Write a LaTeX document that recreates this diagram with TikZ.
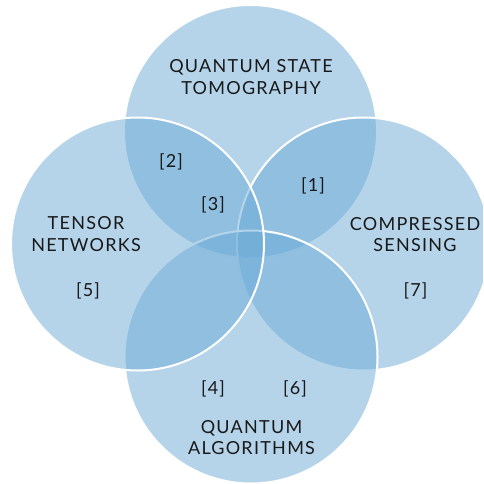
\documentclass[tikz,border=0pt]{standalone}
\usepackage{fontspec}
\setmainfont{Lato}[LetterSpace=7]
\definecolor{vennblue}{RGB}{107,170,214}
\definecolor{textdark}{RGB}{25,25,25}
\begin{document}
\begin{tikzpicture}[x=1pt,y=-1pt,
  venn/.style={fill=vennblue, fill opacity=0.5, draw=white, draw opacity=1, line width=2pt},
  lbl/.style={text=textdark, align=center, inner sep=0pt, font=\fontsize{18}{21.5}\selectfont}]
\useasboundingbox (0,0) rectangle (483,484);
\clip (0,0) rectangle (483,484);
\coordinate (ct) at (250.5,131.5);
\coordinate (cr) at (363.5,244);
\coordinate (cb) at (251,357);
\coordinate (cl) at (137.5,244);
\draw[venn] (ct) circle (126.5pt);
\draw[venn] (cr) circle (126.5pt);
\draw[venn] (cb) circle (126.5pt);
\draw[venn] (cl) circle (126.5pt);
\node[lbl] (qst) at (251,77) {QUANTUM STATE\\TOMOGRAPHY};
\node[lbl] (tn) at (86,234) {TENSOR\\NETWORKS};
\node[lbl] (cs) at (415,234.5) {COMPRESSED\\SENSING};
\node[lbl] (qa) at (251.5,437.5) {QUANTUM\\ALGORITHMS};
\node[lbl] (r1) at (313,186) {[1]};
\node[lbl] (r2) at (171,162) {[2]};
\node[lbl] (r3) at (213,205) {[3]};
\node[lbl] (r4) at (213,388.5) {[4]};
\node[lbl] (r5) at (88,290.5) {[5]};
\node[lbl] (r6) at (295,388.5) {[6]};
\node[lbl] (r7) at (415.5,290.5) {[7]};
\end{tikzpicture}
\end{document}
